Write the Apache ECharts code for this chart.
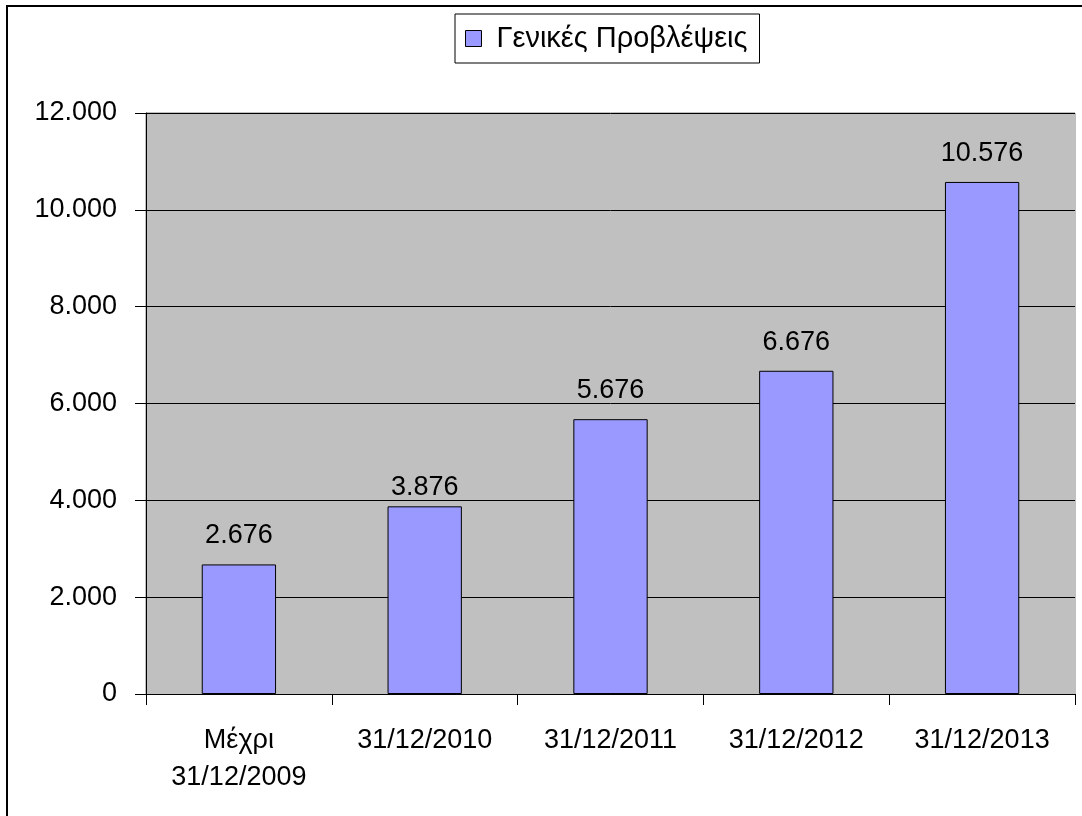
<!DOCTYPE html>
<html>
<head>
<meta charset="utf-8">
<script src="https://cdn.jsdelivr.net/npm/echarts@6/dist/echarts.min.js"></script>
<style>html,body{margin:0;padding:0;background:#fff}#c{width:1082px;height:816px}</style>
</head>
<body>
<div id="c"></div>
<script>
const categories = ['Μέχρι\n31/12/2009', '31/12/2010', '31/12/2011', '31/12/2012', '31/12/2013'];
const seriesName = 'Γενικές Προβλέψεις';
const values = [2676, 3876, 5676, 6676, 10576];

function fmt(v) {
  return String(v).replace(/\B(?=(\d{3})+(?!\d))/g, '.');
}

const chart = echarts.init(document.getElementById('c'), null, {renderer: 'canvas'});
const font = 'Liberation Sans, Arial, sans-serif';
const fs = 27;
// the second label sits closer to its bar in the reference
const barData = values.map((v, i) => i === 1 ? {value: v, label: {distance: 5}} : v);
chart.setOption({
  animation: false,
  textStyle: {fontFamily: font},
  graphic: [
    {type: 'rect', shape: {x: 7, y: 6, width: 1200, height: 1000}, style: {fill: 'none', stroke: '#000', lineWidth: 2}, z: 100},
    {type: 'rect', shape: {x: 146, y: 113, width: 929, height: 581}, style: {fill: 'none', stroke: '#808080', lineWidth: 1}, z: -1}
  ],
  legend: {
    left: 455, top: 14,
    padding: [10, 12, 10, 10],
    borderColor: '#000', borderWidth: 1,
    itemWidth: 16, itemHeight: 16, itemGap: 6,
    icon: 'rect',
    textStyle: {fontSize: 29, color: '#000', fontFamily: font, padding: [0, 0, 0, 10]},
    data: [{name: seriesName, itemStyle: {borderColor: '#000', borderWidth: 1}}]
  },
  grid: {left: 146, right: 7, top: 113, bottom: 122, show: true, backgroundColor: '#C0C0C0', borderWidth: 0},
  xAxis: {
    type: 'category',
    data: categories,
    axisLine: {lineStyle: {color: '#000', width: 1}},
    axisTick: {show: true, length: 11, lineStyle: {color: '#000'}},
    axisLabel: {color: '#000', fontSize: fs, margin: 28, lineHeight: 37, interval: 0, fontFamily: font}
  },
  yAxis: {
    type: 'value', min: 0, max: 12000, interval: 2000,
    axisLine: {show: true, lineStyle: {color: '#000', width: 1}},
    axisTick: {show: true, length: 11, lineStyle: {color: '#000'}},
    splitLine: {lineStyle: {color: '#000', width: 1}},
    axisLabel: {color: '#000', fontSize: fs, margin: 29, formatter: fmt, fontFamily: font}
  },
  series: [{
    name: seriesName,
    type: 'bar',
    data: barData,
    barCategoryGap: '60%',
    itemStyle: {color: '#9999FF', borderColor: '#000', borderWidth: 1},
    label: {show: true, position: 'top', distance: 15, color: '#000', fontSize: fs, formatter: p => fmt(p.value), fontFamily: font}
  }]
});
</script>
</body>
</html>
